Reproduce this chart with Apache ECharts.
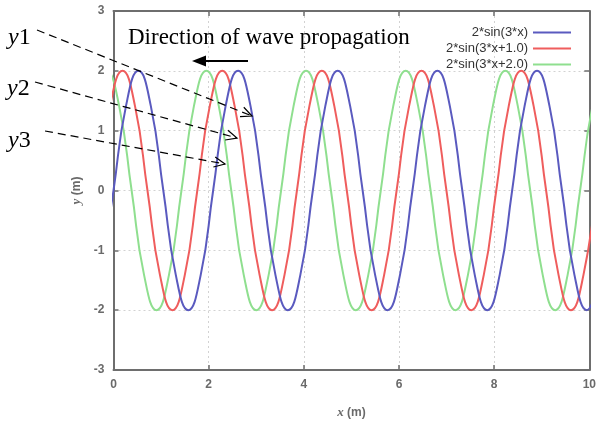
<!DOCTYPE html>
<html>
<head>
<meta charset="utf-8">
<script src="https://cdn.jsdelivr.net/npm/echarts@6/dist/echarts.min.js"></script>
<style>
html,body{margin:0;padding:0;background:#fff;}
#chart{width:599px;height:424px;}
</style>
</head>
<body>
<div id="chart"></div>
<script>
// ---- data ----
var seriesNames = ['2*sin(3*x)', '2*sin(3*x+1.0)', '2*sin(3*x+2.0)'];
var xTicks = [0, 2, 4, 6, 8, 10];
var yTicks = [-3, -2, -1, 0, 1, 2, 3];

var blueX = [-0.262,0,0.262,0.524,0.785,1.047,1.309,1.571,1.833,2.094,2.356,2.618,2.880,3.142,3.403,3.665,3.927,4.189,4.451,4.712,4.974,5.236,5.498,5.760,6.021,6.283,6.545,6.807,7.069,7.330,7.592,7.854,8.116,8.378,8.639,8.901,9.163,9.425,9.687,9.948,10.21];
var blueY = [-1.41,0,1.41,2,1.41,0,-1.41,-2,-1.41,0,1.41,2,1.41,0,-1.41,-2,-1.41,0,1.41,2,1.41,0,-1.41,-2,-1.41,0,1.41,2,1.41,0,-1.41,-2,-1.41,0,1.41,2,1.41,0,-1.41,-2,-1.41];

var redX = [-0.333,-0.072,0.190,0.452,0.714,0.976,1.237,1.499,1.761,2.023,2.285,2.546,2.808,3.070,3.332,3.594,3.855,4.117,4.379,4.641,4.903,5.164,5.426,5.688,5.950,6.212,6.473,6.735,6.997,7.259,7.521,7.782,8.044,8.306,8.568,8.830,9.092,9.353,9.615,9.877,10.139];
var redY = [0,1.41,2,1.41,0,-1.41,-2,-1.41,0,1.41,2,1.41,0,-1.41,-2,-1.41,0,1.41,2,1.41,0,-1.41,-2,-1.41,0,1.41,2,1.41,0,-1.41,-2,-1.41,0,1.41,2,1.41,0,-1.41,-2,-1.41,0];

var greenX = [-0.405,-0.143,0.119,0.381,0.642,0.904,1.166,1.428,1.690,1.951,2.213,2.475,2.737,2.999,3.261,3.522,3.784,4.046,4.308,4.570,4.831,5.093,5.355,5.617,5.879,6.140,6.402,6.664,6.926,7.188,7.449,7.711,7.973,8.235,8.497,8.758,9.020,9.282,9.544,9.806,10.068,10.330];
var greenY = [1.41,2,1.41,0,-1.41,-2,-1.41,0,1.41,2,1.41,0,-1.41,-2,-1.41,0,1.41,2,1.41,0,-1.41,-2,-1.41,0,1.41,2,1.41,0,-1.41,-2,-1.41,0,1.41,2,1.41,0,-1.41,-2,-1.41,0,1.41,2];

var annoLabels = ['1', '2', '3'];
var directionText = 'Direction of wave propagation';

// ---- build ----
function pairs(xs, ys) {
  var out = [];
  for (var i = 0; i < xs.length; i++) out.push([xs[i], ys[i]]);
  return out;
}
var colors = ['#5a5abf', '#ef5d5d', '#8fdf8f'];
var dataSets = [pairs(blueX, blueY), pairs(redX, redY), pairs(greenX, greenY)];

var axisColor = '#6e6e6e';
var labelStyle = {color: '#6a6a6a', fontSize: 12, fontWeight: 'bold', fontFamily: 'Liberation Sans, Arial, sans-serif'};
var nameStyle = {color: '#6a6a6a', fontSize: 12, fontWeight: 'bold', fontFamily: 'Liberation Sans, Arial, sans-serif',
  rich: {i: {fontStyle: 'italic', fontWeight: 'bold', fontSize: 13, color: '#6a6a6a', fontFamily: 'Liberation Serif, serif'}}};

function mainX() {
  return {
    type: 'value', min: xTicks[0], max: xTicks[xTicks.length - 1], interval: 2,
    axisLine: {show: true, onZero: false, lineStyle: {color: axisColor, width: 2}},
    axisTick: {show: true, inside: true, length: 5, lineStyle: {color: axisColor, width: 1.5}},
    axisLabel: Object.assign({margin: 9}, labelStyle),
    splitLine: {show: true, lineStyle: {color: '#d2d2d2', type: [2, 3], width: 1}},
    name: '{i|x} (m)', nameLocation: 'middle', nameGap: 36,
    nameTextStyle: nameStyle
  };
}
function mainY() {
  return {
    type: 'value', min: yTicks[0], max: yTicks[yTicks.length - 1], interval: 1,
    axisLine: {show: true, onZero: false, lineStyle: {color: axisColor, width: 2}},
    axisTick: {show: true, inside: true, length: 5, lineStyle: {color: axisColor, width: 1.5}},
    axisLabel: Object.assign({margin: 9}, labelStyle),
    splitLine: {show: true, lineStyle: {color: '#d2d2d2', type: [2, 3], width: 1}},
    name: '{i|y} (m)', nameLocation: 'middle', nameGap: 30,
    nameTextStyle: nameStyle
  };
}
function mirror(base, pos) {
  return {
    type: 'value', position: pos, min: base.min, max: base.max, interval: base.interval,
    axisLine: {show: true, onZero: false, lineStyle: {color: axisColor, width: 2}},
    axisTick: {show: true, inside: true, length: 5, lineStyle: {color: axisColor, width: 1.5}},
    axisLabel: {show: false}, splitLine: {show: false}
  };
}
var xa = mainX(), ya = mainY();

var series = seriesNames.map(function (n, i) {
  return {
    name: n, type: 'line', xAxisIndex: 0, yAxisIndex: 0,
    data: dataSets[i], smooth: 0.5, symbol: 'none', clip: true,
    lineStyle: {color: colors[i], width: 2}, itemStyle: {color: colors[i]},
    z: 3 - i
  };
});

// annotation graphics (pixel layout)
var arrows = [
  {from: [37, 30], to: [252, 116]},
  {from: [35, 82], to: [237, 138]},
  {from: [45, 131], to: [225, 164]}
];
var labelPos = [[8, 38], [7, 89], [8, 141]];
var graphics = [];
arrows.forEach(function (a, i) {
  graphics.push({type: 'line', shape: {x1: a.from[0], y1: a.from[1], x2: a.to[0], y2: a.to[1]},
    style: {stroke: '#000', lineWidth: 1.2, lineDash: [8, 5]}, z: 100});
  var ang = Math.atan2(a.to[1] - a.from[1], a.to[0] - a.from[0]) + Math.PI;
  var L = 12, d = 25 * Math.PI / 180;
  graphics.push({type: 'polyline', shape: {points: [
      [a.to[0] + L * Math.cos(ang - d), a.to[1] + L * Math.sin(ang - d)],
      a.to,
      [a.to[0] + L * Math.cos(ang + d), a.to[1] + L * Math.sin(ang + d)]]},
    style: {stroke: '#000', lineWidth: 1.2, fill: null}, z: 100});
  graphics.push({type: 'text', x: labelPos[i][0], y: labelPos[i][1], z: 100,
    style: {text: '{i|y}{n|' + annoLabels[i] + '}', verticalAlign: 'middle', align: 'left',
      rich: {i: {fontFamily: 'Liberation Serif, serif', fontStyle: 'italic', fontSize: 24, fill: '#000', color: '#000'},
             n: {fontFamily: 'Liberation Serif, serif', fontSize: 24, fill: '#000', color: '#000'}}}});
});
graphics.push({type: 'text', x: 128, y: 38, z: 100,
  style: {text: directionText, font: '23px "Liberation Serif", serif', fill: '#000', verticalAlign: 'middle', align: 'left'}});
graphics.push({type: 'line', shape: {x1: 248, y1: 61, x2: 204, y2: 61}, style: {stroke: '#000', lineWidth: 2}, z: 100});
graphics.push({type: 'polygon', shape: {points: [[192, 61], [206, 55.5], [206, 66.5]]}, style: {fill: '#000'}, z: 100});

var chart = echarts.init(document.getElementById('chart'), null, {renderer: 'canvas'});
chart.setOption({
  animation: false,
  backgroundColor: '#fff',
  grid: {left: 113.5, right: 8.5, top: 11, bottom: 54, containLabel: false},
  xAxis: [xa, mirror(xa, 'top')],
  yAxis: [ya, mirror(ya, 'right')],
  legend: {
    show: true, orient: 'vertical', right: 23, top: 21, align: 'right',
    icon: 'rect', itemWidth: 38, itemHeight: 2, itemGap: 3,
    textStyle: {color: '#333', fontSize: 13, fontFamily: 'Liberation Sans, Arial, sans-serif'},
    data: seriesNames
  },
  series: series,
  graphic: graphics
});
</script>
</body>
</html>
